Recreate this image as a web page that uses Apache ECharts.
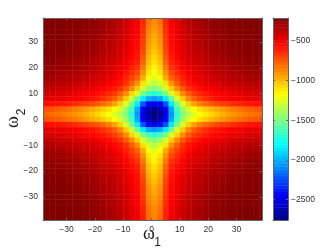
<!DOCTYPE html>
<html><head><meta charset="utf-8">
<style>html,body{margin:0;padding:0;background:#fff}#c{width:332px;height:250px}</style>
<script src="https://cdn.jsdelivr.net/npm/echarts@6/dist/echarts.min.js"></script></head>
<body><div id="c"></div><script>
const xTicks=[-30,-20,-10,0,10,20,30];
const yTicks=[-30,-20,-10,0,10,20,30];
const cbTicks=[-2500,-2000,-1500,-1000,-500];
const jetColors=['#00007f','#0000ff','#007fff','#00ffff','#7fff7f','#ffff00','#ff7f00','#ff0000','#7f0000'];
const xCenters=[-37,-35,-33,-31,-29,-27,-25,-23,-21,-19,-17,-15,-13,-11,-9,-7,-5,-3,-1,1,3,5,7,9,11,13,15,17,19,21,23,25,27,29,31,33,35,37,39];
const yCenters=[38,36,34,32,30,28,26,24,22,20,18,16,14,12,10,8,6,4,2,0,-2,-4,-6,-8,-10,-12,-14,-16,-18,-20,-22,-24,-26,-28,-30,-32,-34,-36,-38];
const cbLevels=[-2736,-2696,-2657,-2617,-2577,-2537,-2498,-2458,-2418,-2378,-2339,-2299,-2259,-2219,-2180,-2140,-2100,-2060,-2021,-1981,-1941,-1901,-1862,-1822,-1782,-1742,-1703,-1663,-1623,-1583,-1544,-1504,-1464,-1424,-1385,-1345,-1305,-1265,-1226,-1186,-1146,-1106,-1067,-1027,-987,-947,-908,-868,-828,-788,-749,-709,-669,-629,-590,-550,-510,-470,-431,-391,-351,-311,-272,-232];
const zRows=[
[-216,-218,-220,-222,-224,-228,-232,-240,-250,-265,-290,-310,-335,-365,-405,-465,-510,-620,-820,-880,-820,-620,-510,-465,-405,-365,-335,-310,-290,-265,-250,-240,-232,-228,-224,-222,-220,-218,-216],
[-218,-220,-222,-224,-226,-230,-236,-245,-256,-272,-295,-315,-345,-375,-415,-475,-520,-640,-840,-900,-840,-640,-520,-475,-415,-375,-345,-315,-295,-272,-256,-245,-236,-230,-226,-224,-222,-220,-218],
[-220,-222,-224,-226,-228,-233,-240,-250,-262,-280,-300,-325,-350,-380,-420,-480,-530,-650,-860,-920,-860,-650,-530,-480,-420,-380,-350,-325,-300,-280,-262,-250,-240,-233,-228,-226,-224,-222,-220],
[-222,-224,-226,-228,-232,-238,-245,-255,-270,-290,-310,-335,-360,-390,-430,-490,-540,-670,-880,-950,-880,-670,-540,-490,-430,-390,-360,-335,-310,-290,-270,-255,-245,-238,-232,-228,-226,-224,-222],
[-224,-226,-228,-230,-235,-242,-252,-265,-280,-300,-320,-345,-370,-400,-440,-500,-550,-680,-900,-970,-900,-680,-550,-500,-440,-400,-370,-345,-320,-300,-280,-265,-252,-242,-235,-230,-228,-226,-224],
[-226,-228,-230,-235,-240,-250,-262,-275,-290,-310,-330,-355,-380,-410,-450,-510,-560,-700,-930,-1000,-930,-700,-560,-510,-450,-410,-380,-355,-330,-310,-290,-275,-262,-250,-240,-235,-230,-228,-226],
[-228,-232,-235,-240,-250,-260,-270,-285,-300,-320,-345,-365,-390,-420,-460,-520,-570,-720,-960,-1030,-960,-720,-570,-520,-460,-420,-390,-365,-345,-320,-300,-285,-270,-260,-250,-240,-235,-232,-228],
[-235,-240,-245,-250,-260,-270,-285,-300,-315,-335,-360,-380,-400,-430,-480,-540,-590,-750,-990,-1070,-990,-750,-590,-540,-480,-430,-400,-380,-360,-335,-315,-300,-285,-270,-260,-250,-245,-240,-235],
[-245,-250,-255,-265,-275,-285,-300,-310,-330,-350,-380,-400,-420,-450,-500,-560,-610,-780,-1020,-1100,-1020,-780,-610,-560,-500,-450,-420,-400,-380,-350,-330,-310,-300,-285,-275,-265,-255,-250,-245],
[-260,-265,-270,-280,-290,-300,-320,-330,-350,-370,-400,-420,-450,-480,-530,-600,-650,-830,-1060,-1140,-1060,-830,-650,-600,-530,-480,-450,-420,-400,-370,-350,-330,-320,-300,-290,-280,-270,-265,-260],
[-275,-280,-290,-300,-310,-330,-340,-350,-370,-390,-420,-440,-470,-510,-570,-640,-710,-890,-1100,-1190,-1100,-890,-710,-640,-570,-510,-470,-440,-420,-390,-370,-350,-340,-330,-310,-300,-290,-280,-275],
[-300,-310,-320,-330,-340,-350,-370,-380,-400,-420,-440,-470,-500,-550,-610,-690,-780,-960,-1170,-1250,-1170,-960,-780,-690,-610,-550,-500,-470,-440,-420,-400,-380,-370,-350,-340,-330,-320,-310,-300],
[-330,-340,-350,-360,-370,-380,-400,-410,-430,-450,-470,-500,-540,-580,-650,-760,-890,-1100,-1270,-1350,-1270,-1100,-890,-760,-650,-580,-540,-500,-470,-450,-430,-410,-400,-380,-370,-360,-350,-340,-330],
[-370,-380,-390,-400,-410,-430,-440,-460,-480,-500,-530,-560,-600,-650,-750,-880,-1040,-1260,-1420,-1480,-1420,-1260,-1040,-880,-750,-650,-600,-560,-530,-500,-480,-460,-440,-430,-410,-400,-390,-380,-370],
[-420,-430,-440,-450,-470,-480,-500,-520,-540,-560,-590,-630,-680,-760,-880,-1060,-1270,-1510,-1650,-1700,-1650,-1510,-1270,-1060,-880,-760,-680,-630,-590,-560,-540,-520,-500,-480,-470,-450,-440,-430,-420],
[-450,-460,-470,-480,-500,-510,-530,-550,-570,-600,-640,-690,-760,-870,-1040,-1270,-1550,-1850,-2010,-2060,-2010,-1850,-1550,-1270,-1040,-870,-760,-690,-640,-600,-570,-550,-530,-510,-500,-480,-470,-460,-450],
[-550,-565,-575,-590,-610,-630,-660,-680,-710,-750,-790,-850,-930,-1050,-1260,-1510,-1850,-2230,-2440,-2500,-2440,-2230,-1850,-1510,-1260,-1050,-930,-850,-790,-750,-710,-680,-660,-630,-610,-590,-575,-565,-550],
[-730,-740,-760,-780,-810,-840,-870,-910,-950,-990,-1040,-1090,-1170,-1270,-1420,-1650,-2010,-2440,-2640,-2700,-2640,-2440,-2010,-1650,-1420,-1270,-1170,-1090,-1040,-990,-950,-910,-870,-840,-810,-780,-760,-740,-730],
[-780,-800,-820,-840,-870,-900,-930,-970,-1020,-1070,-1120,-1170,-1250,-1340,-1480,-1700,-2060,-2500,-2700,-2750,-2700,-2500,-2060,-1700,-1480,-1340,-1250,-1170,-1120,-1070,-1020,-970,-930,-900,-870,-840,-820,-800,-780],
[-730,-740,-760,-780,-810,-840,-870,-910,-950,-990,-1040,-1090,-1170,-1270,-1420,-1650,-2010,-2440,-2640,-2700,-2640,-2440,-2010,-1650,-1420,-1270,-1170,-1090,-1040,-990,-950,-910,-870,-840,-810,-780,-760,-740,-730],
[-550,-565,-575,-590,-610,-630,-660,-680,-710,-750,-790,-850,-930,-1050,-1260,-1510,-1850,-2230,-2440,-2500,-2440,-2230,-1850,-1510,-1260,-1050,-930,-850,-790,-750,-710,-680,-660,-630,-610,-590,-575,-565,-550],
[-450,-460,-470,-480,-500,-510,-530,-550,-570,-600,-640,-690,-760,-870,-1040,-1270,-1550,-1850,-2010,-2060,-2010,-1850,-1550,-1270,-1040,-870,-760,-690,-640,-600,-570,-550,-530,-510,-500,-480,-470,-460,-450],
[-420,-430,-440,-450,-470,-480,-500,-520,-540,-560,-590,-630,-680,-760,-880,-1060,-1270,-1510,-1650,-1700,-1650,-1510,-1270,-1060,-880,-760,-680,-630,-590,-560,-540,-520,-500,-480,-470,-450,-440,-430,-420],
[-370,-380,-390,-400,-410,-430,-440,-460,-480,-500,-530,-560,-600,-650,-750,-880,-1040,-1260,-1420,-1480,-1420,-1260,-1040,-880,-750,-650,-600,-560,-530,-500,-480,-460,-440,-430,-410,-400,-390,-380,-370],
[-330,-340,-350,-360,-370,-380,-400,-410,-430,-450,-470,-500,-540,-580,-650,-760,-890,-1100,-1270,-1350,-1270,-1100,-890,-760,-650,-580,-540,-500,-470,-450,-430,-410,-400,-380,-370,-360,-350,-340,-330],
[-300,-310,-320,-330,-340,-350,-370,-380,-400,-420,-440,-470,-500,-550,-610,-690,-780,-960,-1170,-1250,-1170,-960,-780,-690,-610,-550,-500,-470,-440,-420,-400,-380,-370,-350,-340,-330,-320,-310,-300],
[-275,-280,-290,-300,-310,-330,-340,-350,-370,-390,-420,-440,-470,-510,-570,-640,-710,-890,-1100,-1190,-1100,-890,-710,-640,-570,-510,-470,-440,-420,-390,-370,-350,-340,-330,-310,-300,-290,-280,-275],
[-260,-265,-270,-280,-290,-300,-320,-330,-350,-370,-400,-420,-450,-480,-530,-600,-650,-830,-1060,-1140,-1060,-830,-650,-600,-530,-480,-450,-420,-400,-370,-350,-330,-320,-300,-290,-280,-270,-265,-260],
[-245,-250,-255,-265,-275,-285,-300,-310,-330,-350,-380,-400,-420,-450,-500,-560,-610,-780,-1020,-1100,-1020,-780,-610,-560,-500,-450,-420,-400,-380,-350,-330,-310,-300,-285,-275,-265,-255,-250,-245],
[-235,-240,-245,-250,-260,-270,-285,-300,-315,-335,-360,-380,-400,-430,-480,-540,-590,-750,-990,-1070,-990,-750,-590,-540,-480,-430,-400,-380,-360,-335,-315,-300,-285,-270,-260,-250,-245,-240,-235],
[-228,-232,-235,-240,-250,-260,-270,-285,-300,-320,-345,-365,-390,-420,-460,-520,-570,-720,-960,-1030,-960,-720,-570,-520,-460,-420,-390,-365,-345,-320,-300,-285,-270,-260,-250,-240,-235,-232,-228],
[-226,-228,-230,-235,-240,-250,-262,-275,-290,-310,-330,-355,-380,-410,-450,-510,-560,-700,-930,-1000,-930,-700,-560,-510,-450,-410,-380,-355,-330,-310,-290,-275,-262,-250,-240,-235,-230,-228,-226],
[-224,-226,-228,-230,-235,-242,-252,-265,-280,-300,-320,-345,-370,-400,-440,-500,-550,-680,-900,-970,-900,-680,-550,-500,-440,-400,-370,-345,-320,-300,-280,-265,-252,-242,-235,-230,-228,-226,-224],
[-222,-224,-226,-228,-232,-238,-245,-255,-270,-290,-310,-335,-360,-390,-430,-490,-540,-670,-880,-950,-880,-670,-540,-490,-430,-390,-360,-335,-310,-290,-270,-255,-245,-238,-232,-228,-226,-224,-222],
[-220,-222,-224,-226,-228,-233,-240,-250,-262,-280,-300,-325,-350,-380,-420,-480,-530,-650,-860,-920,-860,-650,-530,-480,-420,-380,-350,-325,-300,-280,-262,-250,-240,-233,-228,-226,-224,-222,-220],
[-218,-220,-222,-224,-226,-230,-236,-245,-256,-272,-295,-315,-345,-375,-415,-475,-520,-640,-840,-900,-840,-640,-520,-475,-415,-375,-345,-315,-295,-272,-256,-245,-236,-230,-226,-224,-222,-220,-218],
[-216,-218,-220,-222,-224,-228,-232,-240,-250,-265,-290,-310,-335,-365,-405,-465,-510,-620,-820,-880,-820,-620,-510,-465,-405,-365,-335,-310,-290,-265,-250,-240,-232,-228,-224,-222,-220,-218,-216],
[-214,-216,-218,-220,-222,-226,-230,-236,-246,-260,-285,-305,-330,-355,-395,-455,-500,-610,-810,-870,-810,-610,-500,-455,-395,-355,-330,-305,-285,-260,-246,-236,-230,-226,-222,-220,-218,-216,-214],
[-212,-214,-216,-218,-220,-224,-228,-232,-242,-255,-280,-300,-325,-350,-390,-450,-490,-600,-800,-860,-800,-600,-490,-450,-390,-350,-325,-300,-280,-255,-242,-232,-228,-224,-220,-218,-216,-214,-212]];
const data=[];
yCenters.forEach((y,r)=>xCenters.forEach((x,c)=>data.push([x,y,zRows[r][c]])));
const cb=cbLevels.map(v=>[0.5,v,v]);
const chart=echarts.init(document.getElementById('c'),null,{renderer:'canvas'});
const fmt=v=>String(v).replace('-','\u2212');
const txt='#333',lineC='#666';
const F='"Liberation Sans",Arial,sans-serif';
function ax(extra){return Object.assign({type:'value',z:5,splitLine:{show:false},
 axisLine:{show:true,onZero:false,lineStyle:{color:lineC,width:1}},
 axisTick:{show:true,inside:true,length:2,lineStyle:{color:lineC,width:1}},
 axisLabel:{show:false}},extra);}
function lab(vals){return {show:true,customValues:vals,formatter:fmt,color:txt,fontSize:8.5,fontFamily:F,margin:5};}
const tk=v=>({show:true,inside:true,length:2,customValues:v,lineStyle:{color:lineC,width:1}});
const W='"Liberation Serif",serif';
const gt=(x,y,t,fs,fam,rot)=>({type:'text',x,y,rotation:rot||0,style:{text:t,fontSize:fs,fontFamily:fam,fill:'#222',align:'center',verticalAlign:'middle'}});
chart.setOption({animation:false,
 grid:[{left:43,top:18,width:219,height:202,outerBoundsMode:'none'},{left:273,top:18,width:15,height:202,outerBoundsMode:'none'}],
 graphic:[gt(149,234,'ω',18,W),gt(157.5,243,'1',12,F),gt(13,122,'ω',18,W,Math.PI/2),gt(22,112,'2',12,F,Math.PI/2)],
 visualMap:{show:false,type:'continuous',min:-2756,max:-212,dimension:2,seriesIndex:[0,1],inRange:{color:jetColors}},
 xAxis:[
  ax({gridIndex:0,min:-38.3,max:39,position:'bottom',axisTick:tk(xTicks),axisLabel:lab(xTicks)}),
  ax({gridIndex:0,min:-38.3,max:39,position:'top',axisTick:tk(xTicks)}),
  ax({gridIndex:1,min:0,max:1,position:'bottom',axisTick:{show:false}}),
  ax({gridIndex:1,min:0,max:1,position:'top',axisTick:{show:false}})],
 yAxis:[
  ax({gridIndex:0,min:-39,max:39.3,position:'left',axisTick:tk(yTicks),axisLabel:lab(yTicks)}),
  ax({gridIndex:0,min:-39,max:39.3,position:'right',axisTick:tk(yTicks)}),
  ax({gridIndex:1,min:-2756,max:-212,position:'right',axisTick:tk(cbTicks),axisLabel:Object.assign(lab(cbTicks),{margin:3})}),
  ax({gridIndex:1,min:-2756,max:-212,position:'left',axisTick:tk(cbTicks)})],
 series:[
 {type:'custom',xAxisIndex:0,yAxisIndex:0,clip:true,data,encode:{x:0,y:1},renderItem(p,api){
   const x=api.value(0),y=api.value(1),a=api.coord([x-1,y+1]),b=api.coord([x+1,y-1]);
   return {type:'rect',shape:{x:a[0],y:a[1],width:b[0]-a[0]+0.4,height:b[1]-a[1]+0.4},style:{fill:api.visual('color')}};}},
 {type:'custom',xAxisIndex:2,yAxisIndex:2,clip:true,data:cb,encode:{x:0,y:1},renderItem(p,api){
   const v=api.value(1),a=api.coord([0,v+20]),b=api.coord([1,v-20]);
   return {type:'rect',shape:{x:a[0],y:a[1],width:b[0]-a[0],height:b[1]-a[1]+0.4},style:{fill:api.visual('color')}};}}
 ]});
</script></body></html>
